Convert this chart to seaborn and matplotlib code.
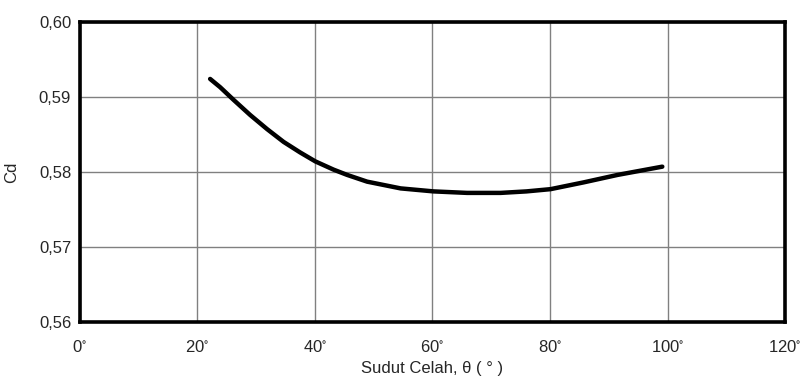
import matplotlib
matplotlib.use("Agg")
import matplotlib.pyplot as plt
import seaborn as sns
import pandas as pd

# values
sudut = [22.2, 23.9, 26.2, 29.0, 31.9, 34.7, 37.5, 40.1, 43.2, 45.5, 48.9, 54.6, 60.2,
         65.9, 71.6, 76.0, 80.1, 85.7, 91.5, 99.1]
cd = [0.5924, 0.5913, 0.5896, 0.5876, 0.5857, 0.5840, 0.5826, 0.5814, 0.5803, 0.5796,
      0.5787, 0.5778, 0.5774, 0.5772, 0.5772, 0.5774, 0.5777, 0.5786, 0.5796, 0.5807]

x_ticks = [0, 20, 40, 60, 80, 100, 120]
y_ticks = [0.56, 0.57, 0.58, 0.59, 0.60]
y_labels = ['0,56', '0,57', '0,58', '0,59', '0,60']


def main():
    sns.set_style("white")
    plt.rcParams['font.family'] = ['Liberation Sans', 'DejaVu Sans']
    plt.rcParams['mathtext.default'] = 'regular'

    df = pd.DataFrame({'Sudut': sudut, 'Cd': cd})

    fig = plt.figure(figsize=(8.12, 3.85), dpi=100)
    ax = fig.add_axes([0.098, 0.164, 0.869, 0.779])
    sns.lineplot(data=df, x='Sudut', y='Cd', color='black', linewidth=3.2, ax=ax)

    ax.set_xlim(0, 120)
    ax.set_ylim(0.56, 0.60)
    ax.set_xticks(x_ticks)
    ax.set_xticklabels([f'{v}$^{{\\circ}}$' for v in x_ticks])
    ax.set_yticks(y_ticks)
    ax.set_yticklabels(y_labels)
    ax.tick_params(axis='x', labelsize=12, length=0, pad=12)
    ax.tick_params(axis='y', labelsize=12, length=0, pad=6)
    ax.grid(True, color='#808080', linewidth=1)

    for s in ax.spines.values():
        s.set_color('black')
        s.set_linewidth(2.6)

    ax.set_xlabel('Sudut Celah, θ ( ° )', fontsize=12, labelpad=5)
    ax.set_ylabel('Cd', fontsize=12, labelpad=14)

    fig.savefig('out.png', dpi=100)


if __name__ == '__main__':
    main()
